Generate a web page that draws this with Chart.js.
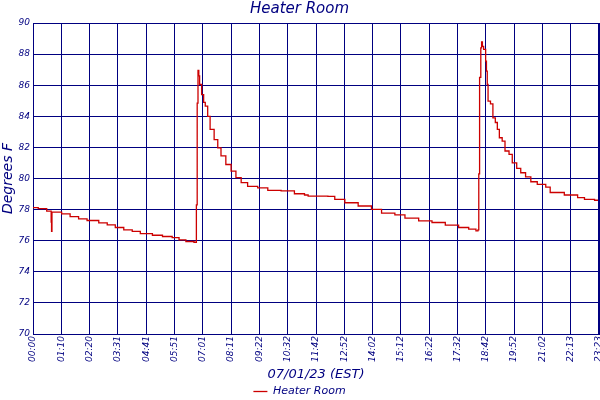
<!DOCTYPE html>
<html>
<head>
<meta charset="utf-8">
<title>Heater Room</title>
<script src="https://cdn.jsdelivr.net/npm/chart.js@4.4.0/dist/chart.umd.min.js"></script>
<style>
    html, body { margin: 0; padding: 0; background: #ffffff; }
    #wrap { width: 600px; height: 400px; }
</style>
</head>
<body>
<div id="wrap"><canvas id="heater-chart" width="600" height="400"></canvas></div>
<script>
    // minutes since midnight
    const minutes = [
        0, 13, 34, 44, 45, 46, 47, 51, 71, 92, 113, 134, 163, 184, 204, 225, 246, 266, 296, 321,
        345, 362, 379, 399, 403, 405, 407, 409, 411, 413, 418, 423, 427, 433, 439, 449, 458, 466, 478, 491,
        503, 516, 532, 557, 582, 615, 648, 673, 682, 731, 748, 773, 806, 839, 864, 897, 922, 956, 989, 1022,
        1055, 1080, 1098, 1103, 1105, 1107, 1110, 1112, 1114, 1117, 1122, 1124, 1126, 1128, 1134, 1140, 1146, 1151, 1156, 1163,
        1170, 1180, 1188, 1199, 1209, 1221, 1234, 1250, 1271, 1282, 1300, 1317, 1333, 1350, 1367, 1392, 1403
    ];
    // degrees F
    const temps = [
        78.13, 78.06, 77.9, 77.9, 77.2, 76.6, 77.84, 77.84, 77.73, 77.55, 77.4, 77.3, 77.15, 77.02, 76.85, 76.7, 76.6, 76.45, 76.35, 76.27,
        76.2, 76.05, 75.95, 75.9, 75.9, 78.3, 84.85, 86.95, 86.6, 86.05, 85.4, 84.9, 84.66, 84.0, 83.16, 82.5, 81.97, 81.45, 80.9, 80.48,
        80.05, 79.73, 79.5, 79.4, 79.24, 79.2, 79.02, 78.94, 78.87, 78.85, 78.66, 78.44, 78.23, 78.02, 77.77, 77.66, 77.45, 77.27, 77.17, 77.0,
        76.85, 76.74, 76.63, 76.7, 80.3, 86.5, 88.4, 88.78, 88.5, 88.3, 87.55, 86.9, 86.05, 84.98, 84.8, 83.9, 83.6, 83.16, 82.62, 82.4,
        81.77, 81.55, 81.0, 80.65, 80.37, 80.1, 79.79, 79.62, 79.45, 79.1, 79.1, 78.94, 78.94, 78.77, 78.66, 78.6, 78.55
    ];
    const xTickLabels = [
        '00:00', '01:10', '02:20', '03:31', '04:41', '05:51', '07:01', '08:11', '09:22', '10:32',
        '11:42', '12:52', '14:02', '15:12', '16:22', '17:32', '18:42', '19:52', '21:02', '22:13', '23:23'
    ];
    const yTicks = [70, 72, 74, 76, 78, 80, 82, 84, 86, 88, 90];

    const navy = '#000080';
    const fontFamily = '"DejaVu Sans", Verdana, sans-serif';
    const xMax = minutes[minutes.length - 1];
    const xStep = xMax / (xTickLabels.length - 1);

    const points = minutes.map((m, i) => ({ x: m, y: temps[i] }));

    new Chart(document.getElementById('heater-chart'), {
        type: 'line',
        data: {
            datasets: [{
                label: 'Heater Room',
                data: points,
                borderColor: '#cc0000',
                backgroundColor: '#cc0000',
                borderWidth: 1.3,
                pointRadius: 0,
                stepped: true,
                fill: false
            }]
        },
        options: {
            responsive: false,
            animation: false,
            // negative bottom so the legend sits as low as in the original
            layout: { padding: { left: 0, right: 1, top: 0, bottom: -7 } },
            plugins: {
                title: {
                    display: true,
                    text: 'Heater Room',
                    color: navy,
                    font: { family: fontFamily, size: 15, style: 'italic', weight: 'normal' },
                    padding: { top: 0, bottom: 5 }
                },
                legend: {
                    display: true,
                    position: 'bottom',
                    labels: {
                        color: navy,
                        font: { family: fontFamily, size: 11, style: 'italic' },
                        usePointStyle: true,
                        pointStyle: 'line',
                        pointStyleWidth: 14,
                        padding: 4
                    }
                },
                tooltip: { enabled: false }
            },
            scales: {
                x: {
                    type: 'linear',
                    min: 0,
                    max: xMax,
                    afterBuildTicks: function (scale) {
                        scale.ticks = xTickLabels.map((t, i) => ({ value: i * xStep }));
                    },
                    afterFit: function (scale) {
                        scale.height = 48;
                        scale.paddingLeft = 0;
                        scale.paddingRight = 0;
                    },
                    ticks: {
                        color: navy,
                        font: { family: fontFamily, size: 9, style: 'italic' },
                        minRotation: 90,
                        maxRotation: 90,
                        padding: 2,
                        autoSkip: false,
                        callback: function (value, index) {
                            return xTickLabels[index];
                        }
                    },
                    grid: { color: navy, lineWidth: 1, drawTicks: false },
                    border: { color: navy, width: 1 },
                    title: {
                        display: true,
                        text: '07/01/23 (EST)',
                        color: navy,
                        font: { family: fontFamily, size: 13, style: 'italic' },
                        padding: { top: 3, bottom: 0 }
                    }
                },
                y: {
                    min: 70,
                    max: 90,
                    afterBuildTicks: function (scale) {
                        scale.ticks = yTicks.map(v => ({ value: v }));
                    },
                    afterFit: function (scale) {
                        scale.width = 33;
                        scale.paddingTop = 0;
                        scale.paddingBottom = 0;
                    },
                    ticks: {
                        color: navy,
                        font: { family: fontFamily, size: 9, style: 'italic' },
                        padding: 3
                    },
                    grid: { color: navy, lineWidth: 1, drawTicks: false },
                    border: { color: navy, width: 1 },
                    title: {
                        display: true,
                        text: 'Degrees F',
                        color: navy,
                        font: { family: fontFamily, size: 14, style: 'italic' },
                        padding: 0
                    }
                }
            }
        },
        plugins: [{
            // heavy right edge of the plot frame, as in the reference
            id: 'rightEdge',
            afterDraw: function (chart) {
                const a = chart.chartArea;
                const ctx = chart.ctx;
                ctx.save();
                ctx.strokeStyle = navy;
                ctx.lineWidth = 2;
                ctx.beginPath();
                ctx.moveTo(a.right, a.top);
                ctx.lineTo(a.right, a.bottom);
                ctx.stroke();
                ctx.restore();
            }
        }]
    });
</script>
</body>
</html>
